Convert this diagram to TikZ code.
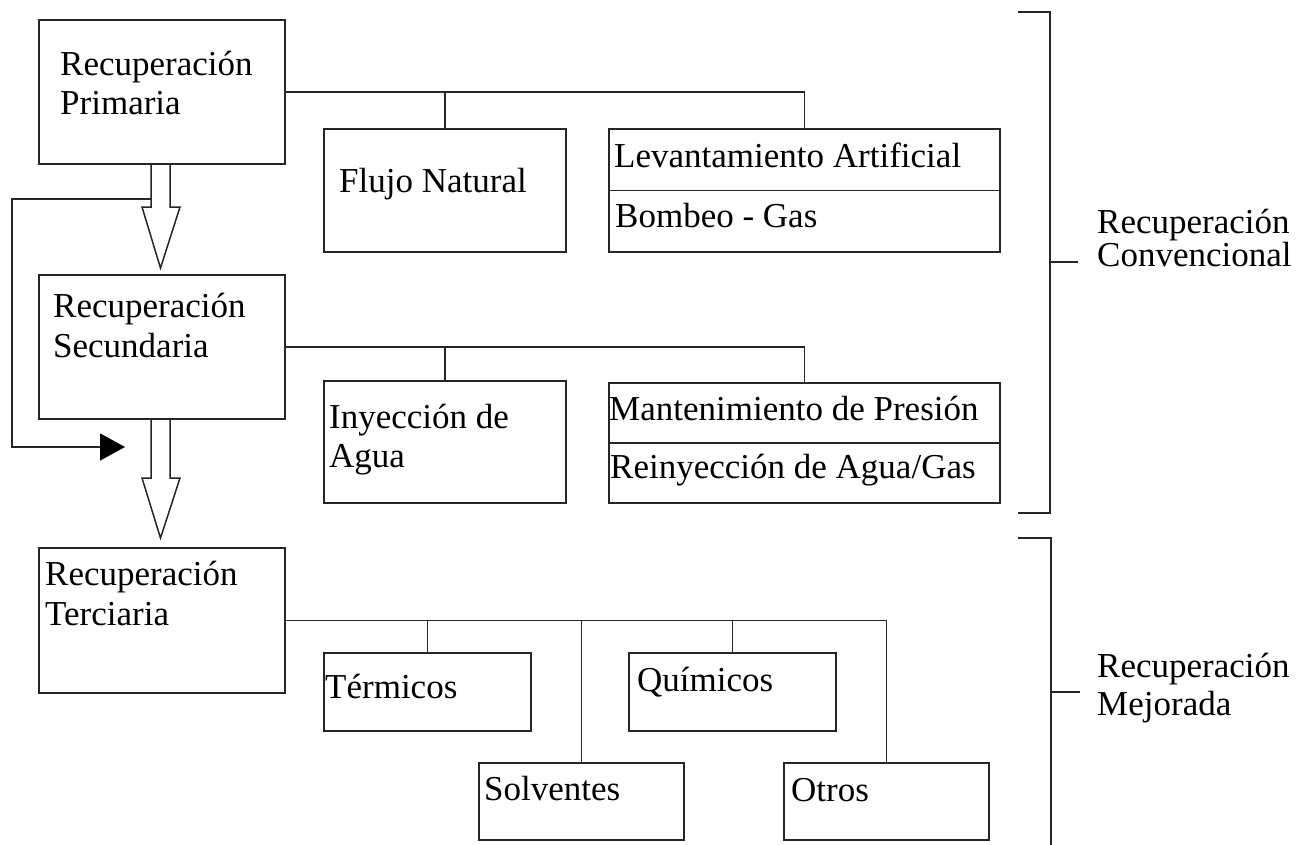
\documentclass[tikz,border=0pt]{standalone}
\usepackage{fontspec}
\setmainfont{Liberation Serif}
\usetikzlibrary{arrows.meta,calc}
\begin{document}
\begin{tikzpicture}[x=1pt,y=-1pt,
  ln/.style={draw=black!85,line width=1.5pt},
  box/.style={ln,rectangle,inner sep=0pt,outer sep=0pt},
  lbl/.style={anchor=base west,inner sep=0pt,text=black,font=\fontsize{35}{40}\selectfont}]
\useasboundingbox[fill=white] (0,0) rectangle (1306,844);

% main boxes
\node[box,minimum width=246pt,minimum height=144pt] (prim) at (162,92) {};
\node[box,minimum width=246pt,minimum height=144pt] (sec) at (162,347) {};
\node[box,minimum width=246pt,minimum height=145pt] (ter) at (162,620.5) {};

% sub boxes
\node[box,minimum width=242pt,minimum height=123pt] (flujo) at (445,190.5) {};
\node[box,minimum width=391pt,minimum height=123pt] (lev) at (804.5,190.5) {};
\node[box,minimum width=242pt,minimum height=122pt] (iny) at (445,442) {};
\node[box,minimum width=391pt,minimum height=120pt] (mant) at (804.5,443) {};
\node[box,minimum width=207pt,minimum height=78pt] (term) at (427.5,692) {};
\node[box,minimum width=207pt,minimum height=78pt] (quim) at (732.5,692) {};
\node[box,minimum width=205pt,minimum height=77pt] (solv) at (581.5,801.5) {};
\node[box,minimum width=205pt,minimum height=77pt] (otros) at (886.5,801.5) {};

% dividers
\draw[ln] (lev.west) -- (lev.east);
\draw[ln] (mant.west) -- (mant.east);

% texts
\node[lbl] (tp1) at (60,75) {Recuperación};
\node[lbl] (tp2) at (60,114) {Primaria};
\node[lbl] (ts1) at (53,317) {Recuperación};
\node[lbl] (ts2) at (53,357) {Secundaria};
\node[lbl] (tt1) at (45,585) {Recuperación};
\node[lbl] (tt2) at (45,625) {Terciaria};
\node[lbl] (tf) at (339,192) {Flujo Natural};
\node[lbl] (tl1) at (614,167) {Levantamiento Artificial};
\node[lbl] (tl2) at (615,227) {Bombeo - Gas};
\node[lbl] (ti1) at (329,428) {Inyección de};
\node[lbl] (ti2) at (329,467) {Agua};
\node[lbl] (tm1) at (609,420) {Mantenimiento de Presión};
\node[lbl] (tm2) at (610,478) {Reinyección de Agua/Gas};
\node[lbl] (tte) at (325,698) {Térmicos};
\node[lbl] (tq) at (637,691) {Químicos};
\node[lbl] (tso) at (484,800) {Solventes};
\node[lbl] (tot) at (791,801) {Otros};
\node[lbl] (tc1) at (1097,233) {Recuperación};
\node[lbl] (tc2) at (1097,266) {Convencional};
\node[lbl] (tme1) at (1097,677) {Recuperación};
\node[lbl] (tme2) at (1097,715) {Mejorada};

% tree connectors
\draw[ln] (prim.east) -- (prim.east -| lev.north) -- (lev.north);
\draw[ln] (prim.east -| flujo.north) -- (flujo.north);
\draw[ln] (sec.east) -- (sec.east -| mant.north) -- (mant.north);
\draw[ln] (sec.east -| iny.north) -- (iny.north);
\draw[ln] (ter.east) -- (ter.east -| otros.north) -- (otros.north);
\draw[ln] (ter.east -| term.north) -- (term.north);
\draw[ln] (ter.east -| solv.north) -- (solv.north);
\draw[ln] (ter.east -| quim.north) -- (quim.north);

% hollow block arrows
\draw[ln,line join=miter] (151,164) -- (151,207) -- (142,207) -- (160.5,268) -- (180,207) -- (170,207) -- (170,164);
\draw[ln,line join=miter] (151,419) -- (151,478) -- (142,478) -- (160.5,538) -- (180,478) -- (170,478) -- (170,419);

% loop arrow
\coordinate (loopstart) at (151,199);
\coordinate (looptip) at (125,447);
\draw[ln,-{Triangle[length=25pt,width=27pt,color=black]}] (loopstart) -- (12,199) -- (12,447) -- (looptip);

% brackets
\draw[ln] (1018,12) -- (1050,12) -- (1050,513) -- (1018,513);
\draw[ln] (1050,262) -- (1078,262);
\draw[ln] (1018,538) -- (1051,538) -- (1051,846);
\draw[ln] (1051,692) -- (1080,692);
\end{tikzpicture}
\end{document}
